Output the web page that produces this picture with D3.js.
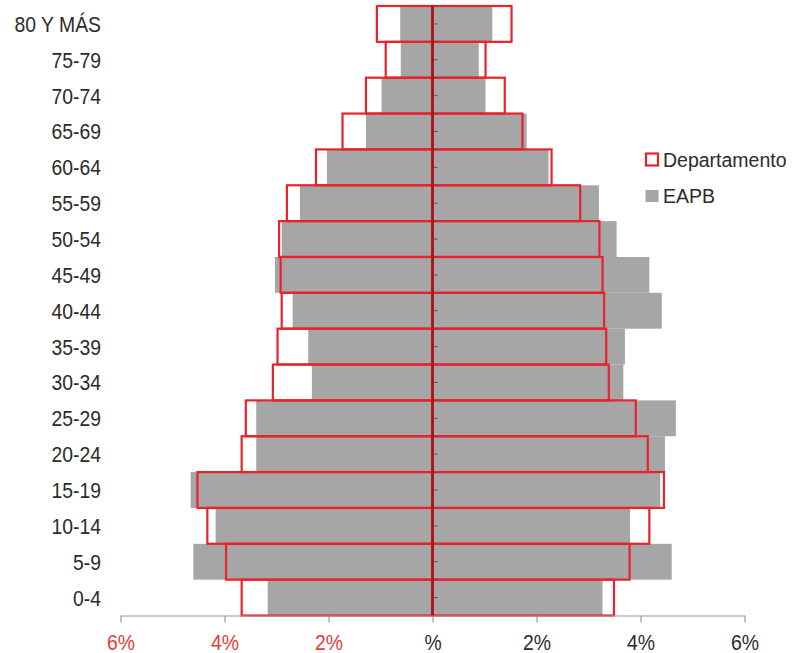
<!DOCTYPE html>
<html>
<head>
<meta charset="utf-8">
<script src="https://cdn.jsdelivr.net/npm/d3@7"></script>
<style>
  html, body { margin: 0; padding: 0; background: #fff; }
  svg { display: block; }
  text { font-family: "Liberation Sans", Arial, sans-serif; }
</style>
</head>
<body>
<svg id="chart" width="792" height="653"></svg>
<script>
const categories = ["80 Y MÁS","75-79","70-74","65-69","60-64","55-59","50-54","45-49","40-44","35-39","30-34","25-29","20-24","15-19","10-14","5-9","0-4"];
const deptLeft  = [1.07,0.90,1.28,1.73,2.24,2.80,2.95,2.92,2.90,2.98,3.07,3.59,3.67,4.52,4.33,3.97,3.67];
const deptRight = [1.52,1.02,1.39,1.73,2.29,2.84,3.21,3.27,3.30,3.34,3.39,3.91,4.14,4.45,4.17,3.79,3.49];
const eapbLeft  = [0.62,0.61,0.98,1.28,2.03,2.55,2.90,3.03,2.69,2.39,2.32,3.39,3.39,4.65,4.17,4.60,3.17];
const eapbRight = [1.15,0.89,1.02,1.81,2.23,3.20,3.54,4.17,4.41,3.70,3.67,4.68,4.47,4.38,3.80,4.60,3.27];
const tickValues = [-6,-4,-2,0,2,4,6];
const tickLabels = ["6%","4%","2%","%","2%","4%","6%"];
const legendLabels = ["Departamento","EAPB"];

const svg = d3.select("#chart");
const x = d3.scaleLinear().domain([-6, 6]).range([120.5, 744.5]);
const y = d3.scaleBand().domain(categories).range([6, 615.5]).padding(0);

const RED = "#e8232b";
const DARKRED = "#a8101a";
const GRAY = "#a6a6a6";
const TXT = "#2b2b2b";
const SX = 0.88;

// gray EAPB bars
const gEapb = svg.append("g");
gEapb.selectAll("rect.l").data(categories).join("rect")
  .attr("x", (d,i) => x(-eapbLeft[i]))
  .attr("y", d => y(d))
  .attr("width", (d,i) => x(0) - x(-eapbLeft[i]))
  .attr("height", y.bandwidth())
  .attr("fill", GRAY);
gEapb.selectAll("rect.r").data(categories).join("rect")
  .attr("x", x(0))
  .attr("y", d => y(d))
  .attr("width", (d,i) => x(eapbRight[i]) - x(0))
  .attr("height", y.bandwidth())
  .attr("fill", GRAY);

// red Departamento outlines
const gDept = svg.append("g");
gDept.selectAll("rect.l").data(categories).join("rect")
  .attr("x", (d,i) => x(-deptLeft[i]))
  .attr("y", d => y(d))
  .attr("width", (d,i) => x(0) - x(-deptLeft[i]))
  .attr("height", y.bandwidth())
  .attr("fill", "none").attr("stroke", RED).attr("stroke-width", 2.2);
gDept.selectAll("rect.r").data(categories).join("rect")
  .attr("x", x(0))
  .attr("y", d => y(d))
  .attr("width", (d,i) => x(deptRight[i]) - x(0))
  .attr("height", y.bandwidth())
  .attr("fill", "none").attr("stroke", RED).attr("stroke-width", 2.2);

// x axis
const xAxis = d3.axisBottom(x).tickValues(tickValues)
  .tickFormat((d,i) => tickLabels[i]).tickSize(7).tickSizeOuter(0);
const gx = svg.append("g").attr("transform", `translate(0,${615.5})`).call(xAxis);
gx.select(".domain").attr("stroke", "#9a9a9a").attr("stroke-width", 1.2);
gx.selectAll(".tick line").attr("stroke", "#9a9a9a").attr("stroke-width", 1.2);
gx.selectAll(".tick text")
  .attr("font-size", 22)
  .attr("y", 0)
  .attr("dy", 0)
  .attr("fill", d => d < 0 ? "#e0403c" : TXT)
  .attr("transform", `translate(0,${34.5}) scale(${SX},1)`)
  .attr("text-anchor", "middle");

// center axis line with small ticks
const minorTicks = [];
categories.forEach(c => { minorTicks.push(y(c)); minorTicks.push(y(c) + y.bandwidth()/2); });
svg.append("g").selectAll("line").data(minorTicks).join("line")
  .attr("x1", x(0) + 1).attr("x2", x(0) + 5)
  .attr("y1", d => d).attr("y2", d => d)
  .attr("stroke", "#555").attr("stroke-width", 1);
svg.append("line")
  .attr("x1", x(0)).attr("x2", x(0))
  .attr("y1", y.range()[0]).attr("y2", y.range()[1])
  .attr("stroke", DARKRED).attr("stroke-width", 2.5);

// category labels
svg.append("g").selectAll("text").data(categories).join("text")
  .attr("transform", d => `translate(101,${y(d) + y.bandwidth()/2 + 8}) scale(${SX},1)`)
  .attr("text-anchor", "end")
  .attr("font-size", 22)
  .attr("fill", TXT)
  .text(d => d);

// legend
const lg = svg.append("g");
lg.append("rect").attr("x", 646).attr("y", 153.5).attr("width", 12).attr("height", 12)
  .attr("fill", "#fff").attr("stroke", RED).attr("stroke-width", 2.2);
lg.append("text").attr("x", 663).attr("y", 166.5).attr("font-size", 19.5).attr("fill", TXT)
  .text(legendLabels[0]);
lg.append("rect").attr("x", 645.5).attr("y", 190).attr("width", 13).attr("height", 12)
  .attr("fill", GRAY);
lg.append("text").attr("x", 663).attr("y", 203).attr("font-size", 19.5).attr("fill", TXT)
  .text(legendLabels[1]);
</script>
</body>
</html>
